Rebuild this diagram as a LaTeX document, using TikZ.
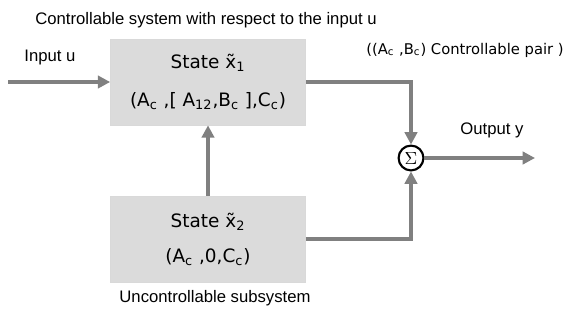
\documentclass[tikz,border=0pt]{standalone}
\usepackage{fontspec}
\setmainfont{Liberation Sans}
\newfontfamily\boxfont{DejaVu Sans}
\usetikzlibrary{arrows.meta}
\newcommand{\sub}[1]{\textsubscript{#1}}
\tikzset{
  sysbox/.style={draw=gray!30, fill=gray!28, minimum width=3.9cm, minimum height=1.72cm,
    align=center, font=\boxfont\fontsize{10.5}{12}\selectfont, inner sep=2pt},
  flow/.style={draw=gray, line width=2.5pt, -{Triangle[length=7pt,width=7pt]}},
  lbl/.style={font=\fontsize{9.5}{11}\selectfont}
}
\begin{document}
\begin{tikzpicture}[x=0.02cm, y=-0.02cm]
  \useasboundingbox[fill=white] (0,0) rectangle (571,328);
  \node[sysbox] (ctrl) at (208,82) {State x̃\sub{1}\\[10pt] (A\sub{c} ,[ A\sub{12},B\sub{c} ],C\sub{c})};
  \node[sysbox] (unctrl) at (208,239) {State x̃\sub{2}\\[8pt] (A\sub{c} ,0,C\sub{c})};
  \node[draw, very thick, circle, inner sep=1.5pt, font=\normalsize] (sum) at (411,158) {$\Sigma$};
  \coordinate (in) at (8,82);
  \coordinate (out) at (535,158);
  \node[lbl] at (206,20) {Controllable system with respect to the input u};
  \node[lbl] at (50,57) {Input u};
  \node[font=\boxfont\fontsize{8.4}{10}\selectfont] at (465,50) {((A\sub{c} ,B\sub{c}) Controllable pair )};
  \node[lbl] at (492,130) {Output y};
  \node[lbl] at (215,298) {Uncontrollable subsystem};
  \draw[flow] (in) -- (ctrl);
  \draw[flow] (unctrl) -- (ctrl);
  \draw[flow] (ctrl) -| (sum);
  \draw[flow] (unctrl) -| (sum);
  \draw[flow] (sum) -- (out);
\end{tikzpicture}
\end{document}
